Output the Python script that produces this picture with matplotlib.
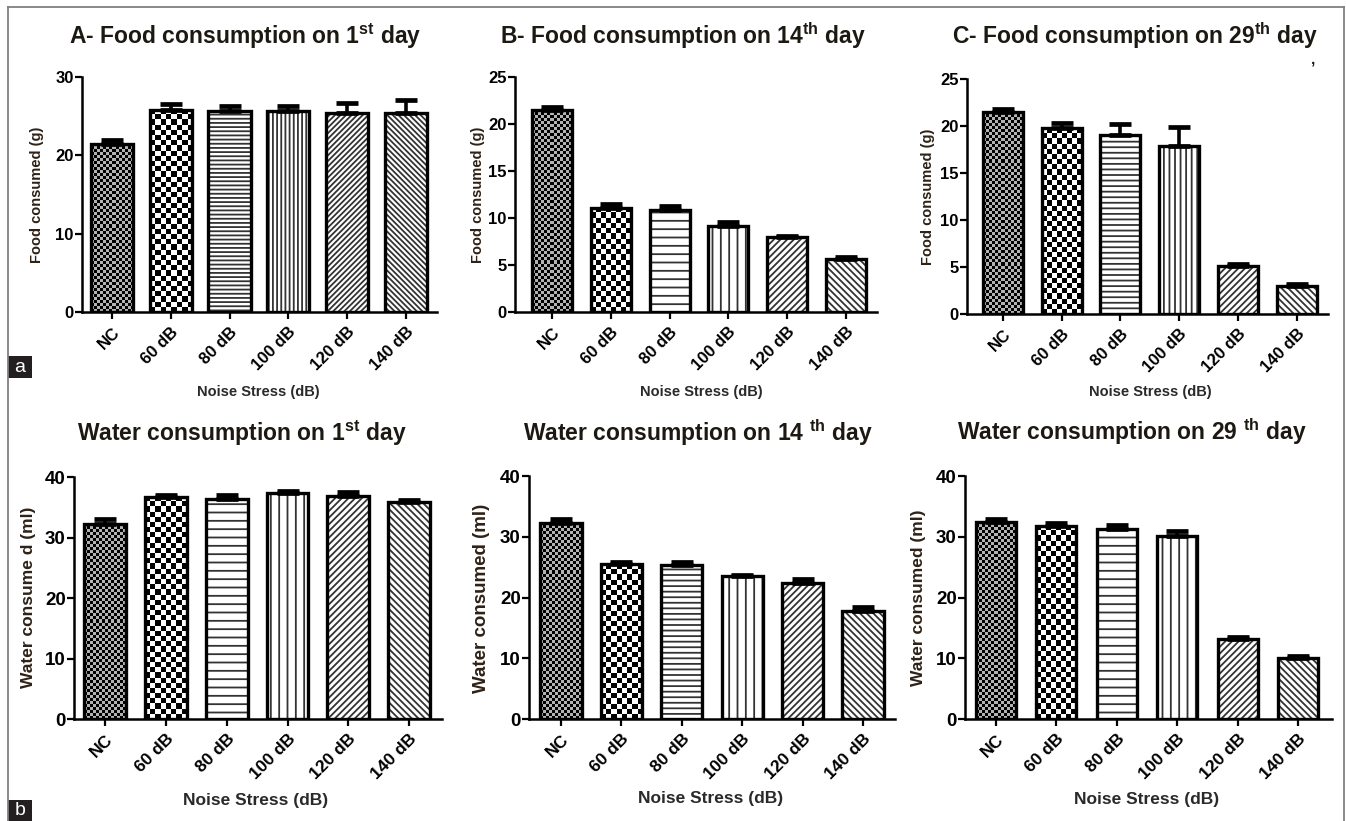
#Noise stress - food and water consumption (6 bar panels)
import numpy as np
import matplotlib
matplotlib.use("Agg")
import matplotlib.pyplot as plt
from matplotlib.lines import Line2D
from matplotlib.patches import Rectangle

plt.rcParams['font.family'] = ['Liberation Sans', 'DejaVu Sans']
plt.rcParams['font.weight'] = 'bold'
plt.rcParams['mathtext.fontset'] = 'custom'
plt.rcParams['mathtext.rm'] = 'Liberation Sans:bold'
plt.rcParams['mathtext.bf'] = 'Liberation Sans:bold'
plt.rcParams['hatch.linewidth'] = 1.3

#Data
groupes = ["NC", "60 dB", "80 dB", "100 dB", "120 dB", "140 dB"]

food_j1 = [21.5, 25.8, 25.7, 25.7, 25.4, 25.4]
food_j1_err = [0.4, 0.8, 0.6, 0.6, 1.3, 1.7]
food_j14 = [21.5, 11.1, 10.9, 9.1, 7.95, 5.6]
food_j14_err = [0.35, 0.35, 0.4, 0.45, 0.15, 0.3]
food_j29 = [21.5, 19.75, 19.0, 17.9, 5.1, 3.0]
food_j29_err = [0.3, 0.6, 1.2, 2.0, 0.25, 0.2]

water_j1 = [32.3, 36.7, 36.4, 37.4, 36.9, 35.8]
water_j1_err = [0.7, 0.4, 0.7, 0.3, 0.6, 0.4]
water_j14 = [32.3, 25.5, 25.3, 23.5, 22.4, 17.7]
water_j14_err = [0.6, 0.4, 0.5, 0.2, 0.7, 0.7]
water_j29 = [32.5, 31.8, 31.25, 30.2, 13.2, 10.0]
water_j29_err = [0.4, 0.5, 0.7, 0.8, 0.3, 0.4]

titres = [r"A- Food consumption on 1$^{\mathbf{st}}$ day",
          r"B- Food consumption on 14$^{\mathbf{th}}$ day",
          r"C- Food consumption on 29$^{\mathbf{th}}$ day",
          r"Water consumption on 1$^{\mathbf{st}}$ day",
          r"Water consumption on 14 $^{\mathbf{th}}$ day",
          r"Water consumption on 29 $^{\mathbf{th}}$ day"]
ylabels = ["Food consumed (g)", "Food consumed (g)", "Food consumed (g)",
           "Water consume d (ml)", "Water consumed (ml)", "Water consumed (ml)"]
xlabel = "Noise Stress (dB)"
ymax = [30, 25, 25, 40, 40, 40]
ystep = [10, 5, 5, 10, 10, 10]

valeurs = [food_j1, food_j14, food_j29, water_j1, water_j14, water_j29]
erreurs = [food_j1_err, food_j14_err, food_j29_err, water_j1_err, water_j14_err, water_j29_err]

#Layout (pixels of the 1346x821 picture)
W, H = 1346, 821
boxes = [(82, 437, 77, 312), (515, 877, 77, 312), (967, 1328, 79, 314),
         (74, 442, 477, 719), (529, 895, 476, 719), (965, 1332, 476, 719)]
xpad = [(0.51, 0.53), (0.63, 0.53), (0.61, 0.53), (0.51, 0.54), (0.53, 0.53), (0.51, 0.56)]
largeur = [0.72, 0.68, 0.68, 0.69, 0.68, 0.66]
titre_pos = [(245, 36), (683, 36), (1135, 36), (242, 433), (698, 433), (1132, 432)]
ylab_pos = [(37, 195), (478, 195), (928, 197), (29, 597), (482, 598), (918, 598)]
ylab_size = [10.5, 10.5, 10.5, 12.5, 13.5, 12.5]
xlab_pos = [(258, 392), (701, 392), (1150, 392), (256, 800), (711, 798), (1147, 799)]
xlab_size = [10.5, 10.5, 10.5, 12.5, 12.5, 12.5]
tick_size = [12, 12, 12, 13.5, 13.5, 13.5]
xtick_size = [12, 12, 12, 12.5, 12.5, 12.5]
#hatch density per panel: horizontal, vertical, diagonal
h_hatch = ['----', '--', '---', '--', '---', '--']
v_hatch = ['||||', '||', '|||', '||', '||', '||']
d_hatch = [6, 5, 5, 5, 5, 5]

couleur_txt = '#1c1812'

def px(x):
	return x / W
def py(y):
	return 1 - y / H

#Checkerboard fill clipped to a bar
def damier(ax, bar, cell, clair):
	x0, y0 = bar.get_x(), bar.get_y()
	w, h = bar.get_width(), bar.get_height()
	p0 = ax.transData.transform((x0, y0))
	p1 = ax.transData.transform((x0 + w, y0 + h))
	nc = max(1, int(round(abs(p1[0] - p0[0]) / cell)))
	nr = max(1, int(round(abs(p1[1] - p0[1]) / cell)))
	ii, jj = np.indices((nr, nc))
	tab = ((ii + jj) % 2) * clair
	im = ax.imshow(tab, extent=(x0, x0 + w, y0, y0 + h), cmap='gray', vmin=0, vmax=1,
		interpolation='nearest', aspect='auto', origin='lower', zorder=1)
	im.set_clip_path(bar)

fig = plt.figure(figsize=(W / 100, H / 100), dpi=100)

for k in range(6):
	l, r, t, b = boxes[k]
	ax = fig.add_axes([px(l), py(b), (r - l) / W, (b - t) / H])
	x = np.arange(len(groupes))
	xl = (-xpad[k][0], len(groupes) - 1 + xpad[k][1])
	ax.set_xlim(xl)
	ax.set_ylim(0, ymax[k])

	hatches = [None, None, h_hatch[k], v_hatch[k], '/' * d_hatch[k], '\\' * d_hatch[k]]
	bars = ax.bar(x, valeurs[k], width=largeur[k], color='white', edgecolor='#333333',
		linewidth=0, zorder=1)
	for i, bar in enumerate(bars):
		if hatches[i] is not None:
			bar.set_hatch(hatches[i])
	damier(ax, bars[0], 3.0, 0.7)
	damier(ax, bars[1], 5.2, 1.0)
	#thick black outline on top
	ax.bar(x, valeurs[k], width=largeur[k], fill=False, edgecolor='black', linewidth=2.4, zorder=3)
	ax.errorbar(x, valeurs[k], yerr=[np.zeros(len(groupes)), erreurs[k]], fmt='none',
		ecolor='black', elinewidth=2.6, capsize=8, capthick=3.4, zorder=4)

	ax.set_xlim(xl)
	ax.set_ylim(0, ymax[k])
	ax.set_yticks(np.arange(0, ymax[k] + 1, ystep[k]))
	ax.set_xticks(x)
	ax.set_xticklabels(groupes, rotation=45, ha='right', rotation_mode='anchor',
		fontsize=xtick_size[k], fontweight='bold', color=couleur_txt)
	for lab in ax.get_yticklabels():
		lab.set_fontsize(tick_size[k])
		lab.set_fontweight('bold')
		lab.set_color(couleur_txt)
	ax.tick_params(axis='both', direction='out', length=5, width=1.6, colors='black')
	ax.tick_params(axis='x', pad=4)
	ax.tick_params(axis='y', pad=1)
	ax.spines['top'].set_visible(False)
	ax.spines['right'].set_visible(False)
	ax.spines['left'].set_linewidth(1.8)
	ax.spines['bottom'].set_linewidth(1.8)

	fig.text(px(titre_pos[k][0]), py(titre_pos[k][1]), titres[k], ha='center', va='center',
		fontsize=16.5, fontweight='bold', color=couleur_txt)
	fig.text(px(ylab_pos[k][0]), py(ylab_pos[k][1]), ylabels[k], ha='center', va='center',
		rotation=90, fontsize=ylab_size[k], fontweight='bold', color='#2e2116')
	fig.text(px(xlab_pos[k][0]), py(xlab_pos[k][1]), xlabel, ha='center', va='center',
		fontsize=xlab_size[k], fontweight='bold', color='#2a2a2a')

#stray mark after title C
fig.text(px(1313), py(60), ",", ha='center', va='center', fontsize=11, fontweight='bold',
	color=couleur_txt)

#outer frame
gris = '#808080'
fig.add_artist(Line2D([px(8), px(8)], [0, py(7)], color=gris, linewidth=1.3))
fig.add_artist(Line2D([px(8), px(1344)], [py(7), py(7)], color=gris, linewidth=1.3))
fig.add_artist(Line2D([px(1344), px(1344)], [0, py(7)], color=gris, linewidth=1.3))

#panel letters
for lettre, (y0, y1) in [("a", (356, 378)), ("b", (800, 821))]:
	fig.add_artist(Rectangle((px(8), py(y1)), 24 / W, (y1 - y0) / H, transform=fig.transFigure,
		facecolor='#231f20', edgecolor='none'))
	fig.text(px(20), py((y0 + y1) / 2), lettre, ha='center', va='center', fontsize=14,
		fontweight='normal', color='white', family='Liberation Sans')

plt.savefig("out.png", dpi=100)
